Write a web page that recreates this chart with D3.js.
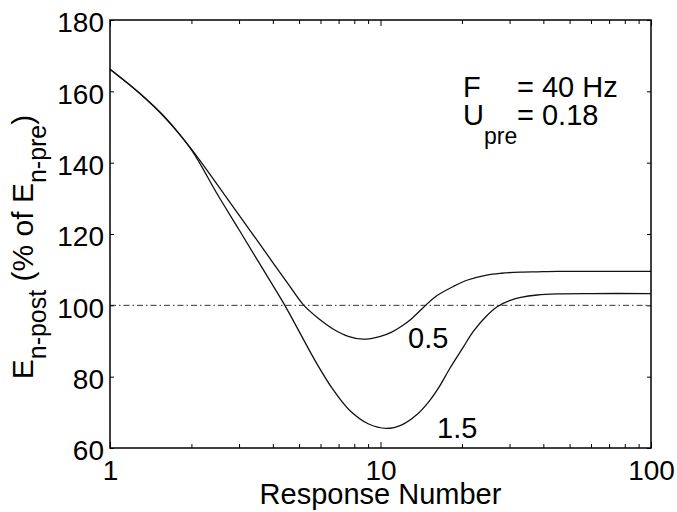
<!DOCTYPE html>
<html>
<head>
<meta charset="utf-8">
<script src="https://cdnjs.cloudflare.com/ajax/libs/d3/7.8.5/d3.min.js"></script>
<style>
  body { margin: 0; background: #fff; }
  text { font-family: "Liberation Sans", Arial, Helvetica, sans-serif; fill: #000; }
</style>
</head>
<body>
<div id="chart"></div>
<script>
// data
var xTicks = [1, 10, 100];
var xMinor = [2, 3, 4, 5, 6, 7, 8, 9, 20, 30, 40, 50, 60, 70, 80, 90];
var yTicks = [60, 80, 100, 120, 140, 160, 180];
var refLevel = 100;

// curve labelled 0.5
var n05 = [1, 1.29, 1.6, 2, 2.5, 3, 3.5, 4, 4.5, 5.18, 5.9, 6.7, 7.6, 8.6, 10, 11, 12, 13, 14.5, 16, 18.6, 21, 24.7, 28, 32.8, 38, 45, 60, 100];
var e05 = [166.2, 159.4, 152.7, 143.8, 133.7, 125.3, 118.2, 112.0, 106.6, 100.2, 96.3, 93.3, 91.3, 90.5, 91.3, 92.5, 94.2, 96.2, 99.6, 102.5, 105.3, 107.1, 108.5, 109.0, 109.3, 109.4, 109.5, 109.5, 109.5];

// curve labelled 1.5
var n15 = [1, 1.29, 1.6, 2, 2.5, 3, 3.5, 4, 4.43, 5, 5.8, 6.7, 7.7, 9, 10.5, 12, 13.6, 15.2, 16.5, 18.1, 20.2, 22, 24.5, 27, 30, 33, 38, 45, 60, 100];
var e15 = [166.2, 159.4, 152.5, 143.6, 131.0, 121.2, 112.8, 105.6, 100, 92.7, 83.8, 76.2, 70.5, 66.8, 65.5, 66.5, 69.3, 73.3, 77.2, 82.5, 88.2, 92.6, 96.8, 99.6, 101.3, 102.2, 102.9, 103.2, 103.3, 103.3];

var W = 677, H = 512;
var mLeft = 110, mRight = 651, mTop = 20, mBottom = 448;

var svg = d3.select("#chart").append("svg")
  .attr("width", W).attr("height", H);

var x = d3.scaleLog().domain([1, 100]).range([mLeft, mRight]);
var y = d3.scaleLinear().domain([60, 180]).range([mBottom, mTop]);

// reference line
svg.append("line")
  .attr("x1", x(1)).attr("x2", x(100))
  .attr("y1", y(refLevel)).attr("y2", y(refLevel))
  .attr("stroke", "#333").attr("stroke-width", 1)
  .attr("stroke-dasharray", "6,3,1.5,3");

var line = d3.line()
  .x(function (d) { return x(d[0]); })
  .y(function (d) { return y(d[1]); })
  .curve(d3.curveCatmullRom.alpha(0.5));

[[n05, e05], [n15, e15]].forEach(function (s) {
  svg.append("path")
    .datum(d3.zip(s[0], s[1]))
    .attr("d", line)
    .attr("fill", "none")
    .attr("stroke", "#111")
    .attr("stroke-width", 1.3);
});

// axes, ticks pointing inward
var fmt = function (d) { return d; };

var xb = svg.append("g").attr("transform", "translate(0," + mBottom + ")")
  .call(d3.axisBottom(x).tickValues(xTicks).tickFormat(fmt).tickSizeInner(-6).tickSizeOuter(0));
xb.selectAll("text").attr("y", 32).attr("dy", null).style("font-size", "28px");
svg.append("g").attr("transform", "translate(0," + mBottom + ")")
  .call(d3.axisBottom(x).tickValues(xMinor).tickFormat("").tickSizeInner(-4).tickSizeOuter(0));
svg.append("g").attr("transform", "translate(0," + mTop + ")")
  .call(d3.axisTop(x).tickValues(xTicks).tickFormat("").tickSizeInner(-6).tickSizeOuter(0));
svg.append("g").attr("transform", "translate(0," + mTop + ")")
  .call(d3.axisTop(x).tickValues(xMinor).tickFormat("").tickSizeInner(-4).tickSizeOuter(0));

var yl = svg.append("g").attr("transform", "translate(" + mLeft + ",0)")
  .call(d3.axisLeft(y).tickValues(yTicks).tickSizeInner(-4).tickSizeOuter(0).tickPadding(6));
yl.selectAll("text").attr("dy", "0.42em").style("font-size", "28px");
svg.append("g").attr("transform", "translate(" + mRight + ",0)")
  .call(d3.axisRight(y).tickValues(yTicks).tickFormat("").tickSizeInner(-4).tickSizeOuter(0));

svg.selectAll(".domain").remove();
svg.selectAll(".tick line").attr("stroke", "#000").attr("stroke-width", 1);
svg.selectAll(".tick text").style("font-family", "'Liberation Sans', Arial, sans-serif").attr("fill", "#000");

// frame
svg.append("rect")
  .attr("x", mLeft).attr("y", mTop)
  .attr("width", mRight - mLeft).attr("height", mBottom - mTop)
  .attr("fill", "none").attr("stroke", "#000").attr("stroke-width", 1.5);

// axis titles
svg.append("text")
  .attr("x", (mLeft + mRight) / 2).attr("y", 504)
  .attr("text-anchor", "middle")
  .style("font-size", "29px")
  .text("Response Number");

var yt = svg.append("text")
  .attr("transform", "translate(33,247) rotate(-90)")
  .attr("text-anchor", "middle")
  .style("font-size", "30px");
yt.append("tspan").text("E");
yt.append("tspan").attr("dy", 13).style("font-size", "25px").text("n-post");
yt.append("tspan").attr("dy", -13).text(" (% of E");
yt.append("tspan").attr("dy", 13).style("font-size", "25px").text("n-pre");
yt.append("tspan").attr("dy", -13).text(")");

// parameter box
svg.append("text").attr("x", 463).attr("y", 97).style("font-size", "29px").text("F");
svg.append("text").attr("x", 517).attr("y", 97).style("font-size", "29px").text("= 40 Hz");
var u = svg.append("text").attr("x", 463).attr("y", 125).style("font-size", "29px");
u.append("tspan").text("U");
u.append("tspan").attr("dy", 19).style("font-size", "23px").text("pre");
svg.append("text").attr("x", 517).attr("y", 125).style("font-size", "29px").text("= 0.18");

// curve labels
svg.append("text").attr("x", 408).attr("y", 348).style("font-size", "29px").text("0.5");
svg.append("text").attr("x", 437).attr("y", 438).style("font-size", "29px").text("1.5");
</script>
</body>
</html>
